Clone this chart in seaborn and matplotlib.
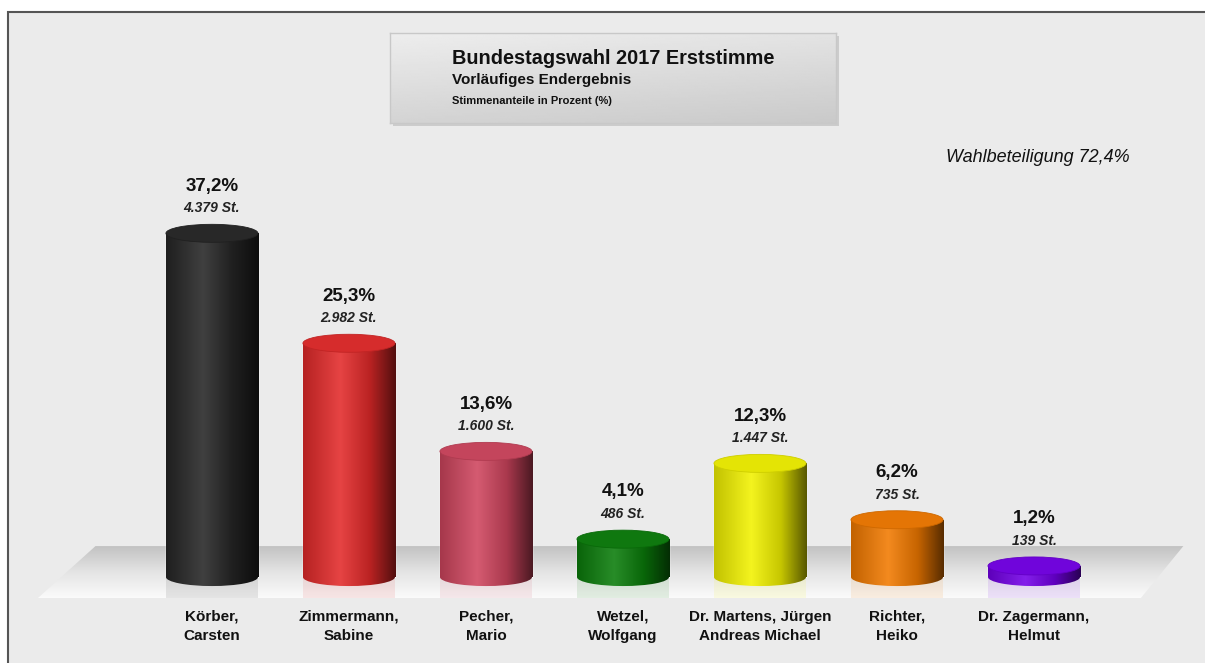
import numpy as np
import pandas as pd
import seaborn as sns
import matplotlib.pyplot as plt
import matplotlib.colors as mcolors
from matplotlib.patches import Ellipse, Polygon, Rectangle

# election data
candidates = ["Körber,\nCarsten", "Zimmermann,\nSabine", "Pecher,\nMario", "Wetzel,\nWolfgang",
              "Dr. Martens, Jürgen\nAndreas Michael", "Richter,\nHeiko", "Dr. Zagermann,\nHelmut"]
percent = [37.2, 25.3, 13.6, 4.1, 12.3, 6.2, 1.2]
votes = [4379, 2982, 1600, 486, 1447, 735, 139]
bar_colors = ["#262626", "#e32a2a", "#cf455e", "#0b7d0b", "#f2f200", "#f27a00", "#7400e8"]
turnout = 72.4

W, H = 1205, 663
BAR_W = 0.672
CAP_H = 1.95


def fmt_pct(v):
    return '{:.1f}%'.format(v).replace('.', ',')


def fmt_votes(v):
    return '{:,} St.'.format(v).replace(',', '.')


def cyl_cmap(c):
    rgb = np.array(mcolors.to_rgb(c))
    light = rgb + (1 - rgb) * 0.12
    stops = [(0.0, rgb * 0.80), (0.4, light), (0.72, rgb * 0.82), (1.0, rgb * 0.36)]
    return mcolors.LinearSegmentedColormap.from_list('cyl', [(p, np.clip(col, 0, 1)) for p, col in stops])


grad = np.linspace(0, 1, 256).reshape(1, -1)

df = pd.DataFrame({'Kandidat': candidates, 'Prozent': percent, 'Stimmen': votes})

sns.set_style('white')
plt.rcParams['font.family'] = ['Liberation Sans', 'DejaVu Sans']

fig = plt.figure(figsize=(W / 100, H / 100), dpi=100)
fig.patch.set_facecolor('white')
fig.add_artist(Rectangle((8 / W, -0.02), 1.0, 1 - 12 / H + 0.02, transform=fig.transFigure,
                         facecolor='#ebebeb', edgecolor='#555555', lw=1.5, zorder=-5))

ax = fig.add_axes([0, 60 / H, 1, 603 / H])
ax.set_facecolor('none')

# floor
floor_top, floor_bot = 3.35, -2.27
floor = Polygon([(-1.27, floor_bot), (-0.85, floor_top), (7.09, floor_top), (6.78, floor_bot)],
                closed=True, facecolor='none', edgecolor='none')
ax.add_patch(floor)
fimg = ax.imshow(np.linspace(0, 1, 256).reshape(-1, 1), cmap=mcolors.LinearSegmentedColormap.from_list(
    'floor', ['#c2c2c2', '#e4e4e4', '#fbfbfb']), extent=(-1.3, 7.1, floor_bot, floor_top),
    aspect='auto', origin='upper', zorder=1)
fimg.set_clip_path(floor)

sns.barplot(data=df, x='Kandidat', y='Prozent', hue='Kandidat', palette=bar_colors,
            width=BAR_W, legend=False, ax=ax, zorder=2)

for i, cont in enumerate(ax.containers):
    bar = cont.patches[0]
    x0 = bar.get_x()
    x1 = x0 + bar.get_width()
    cx = x0 + bar.get_width() / 2
    h = bar.get_height()
    c = bar_colors[i]
    cmap = cyl_cmap(c)

    # reflection on the floor
    ax.add_patch(Rectangle((x0, floor_bot), bar.get_width(), -floor_bot, facecolor=c,
                           alpha=0.10, edgecolor='none', zorder=1.5))

    bottom = Ellipse((cx, 0), BAR_W, CAP_H, facecolor='none', edgecolor='none')
    ax.add_patch(bottom)
    im = ax.imshow(grad, cmap=cmap, extent=(x0, x1, -CAP_H, CAP_H), aspect='auto', zorder=2.8)
    im.set_clip_path(bottom)

    im = ax.imshow(grad, cmap=cmap, extent=(x0, x1, 0, h), aspect='auto', zorder=2.9)
    im.set_clip_path(bar)

    top_rgb = np.clip(np.array(mcolors.to_rgb(c)) * 0.92 + 0.02, 0, 1)
    ax.add_patch(Ellipse((cx, h), BAR_W, CAP_H, facecolor=top_rgb,
                         edgecolor=np.array(mcolors.to_rgb(c)) * 0.85, lw=0.6, zorder=3.2))

    ax.annotate(fmt_pct(percent[i]), (cx, h), xytext=(0, 34), textcoords='offset points',
                ha='center', va='center', fontsize=13.5, fontweight='bold', color='#111111')
    ax.annotate(fmt_votes(votes[i]), (cx, h), xytext=(0, 18), textcoords='offset points',
                ha='center', va='center', fontsize=10, fontweight='bold', fontstyle='italic',
                color='#222222')

ax.set_xlim(-1.547, 7.248)
ax.set_ylim(-2.81, 62.45)
ax.set_xlabel('')
ax.set_ylabel('')
ax.set_yticks([])
ax.tick_params(axis='x', length=0, pad=5)
for lbl in ax.get_xticklabels():
    lbl.set_fontweight('bold')
    lbl.set_fontsize(11)
    lbl.set_color('#111111')
    lbl.set_linespacing(1.45)
sns.despine(ax=ax, left=True, bottom=True)

# title box
bx, by, bw, bh = 390 / W, 1 - 123 / H, 446 / W, 90 / H
fig.add_artist(Rectangle((bx + 3 / W, by - 3 / H), bw, bh, transform=fig.transFigure,
                         facecolor='#b8b8b8', edgecolor='none', alpha=0.6, zorder=2))
tax = fig.add_axes([bx, by, bw, bh], zorder=3)
yy, xx = np.mgrid[0:1:60j, 0:1:200j]
tax.imshow(0.93 - 0.10 * yy - 0.04 * xx, cmap='gray', vmin=0, vmax=1, aspect='auto',
           extent=(0, 1, 0, 1), origin='upper')
tax.set_xticks([])
tax.set_yticks([])
for s in tax.spines.values():
    s.set_color('#c8c8c8')
    s.set_linewidth(1)

fig.text(452 / W, 1 - 58 / H, 'Bundestagswahl 2017 Erststimme', fontsize=14.3, fontweight='bold',
         ha='left', va='center', color='#111111', zorder=4)
fig.text(452 / W, 1 - 80 / H, 'Vorläufiges Endergebnis', fontsize=11, fontweight='bold',
         ha='left', va='center', color='#111111', zorder=4)
fig.text(452 / W, 1 - 101 / H, 'Stimmenanteile in Prozent (%)', fontsize=8, fontweight='bold',
         ha='left', va='center', color='#111111', zorder=4)

fig.text(946 / W, 1 - 158 / H, 'Wahlbeteiligung ' + fmt_pct(turnout), fontsize=13,
         fontstyle='italic', ha='left', va='center', color='#111111')

fig.savefig('out.png', dpi=100)
